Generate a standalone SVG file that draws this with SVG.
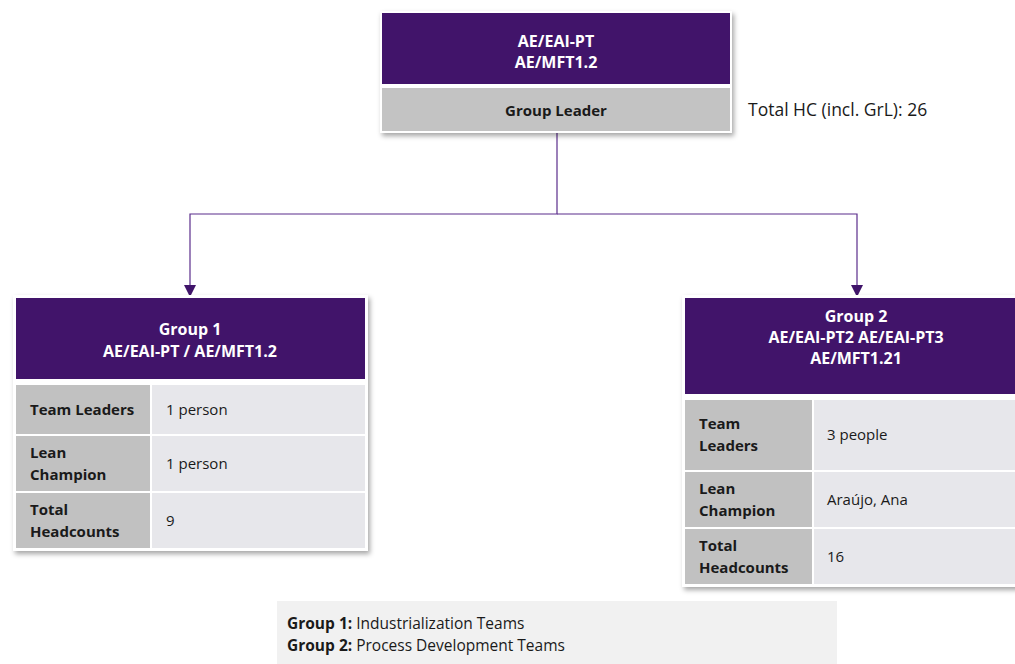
<svg xmlns="http://www.w3.org/2000/svg" width="1015" height="664" viewBox="0 0 1015 664">
  <defs>
    <filter id="shadow" x="-5%" y="-5%" width="115%" height="120%">
      <feDropShadow dx="2" dy="3" stdDeviation="2.5" flood-color="#000" flood-opacity="0.35"/>
    </filter>
    <style>
      .frame { fill: #ffffff; }
      .head { fill: #41146a; }
      .lbl { fill: #c1c1c1; }
      .val { fill: #e7e7eb; }
      .hdr { font-family: "Open Sans", "Liberation Sans", sans-serif; font-weight: bold; font-size: 16px; fill: #ffffff; text-anchor: middle; }
      .bold { font-family: "Open Sans", "Liberation Sans", sans-serif; font-weight: bold; font-size: 15px; fill: #1a1a1a; }
      .txt { font-family: "Open Sans", "Liberation Sans", sans-serif; font-size: 15px; fill: #1a1a1a; }
      .legend { font-size: 15.5px; }
      .note { font-size: 17.5px; }
      .conn { fill: none; stroke: #5b2d8c; stroke-width: 1.2; }
    </style>
  </defs>

  <rect width="1015" height="664" fill="#ffffff"/>

  <!-- connectors -->
  <g id="connectors">
    <path class="conn" d="M557,133 V214 H190 V286"/>
    <path class="conn" d="M557,214 H857 V286"/>
    <path d="M184,285 L196,285 L190,297 Z" fill="#40146a"/>
    <path d="M851,285 L863,285 L857,297 Z" fill="#40146a"/>
  </g>

  <!-- top unit -->
  <g id="top-unit">
    <rect class="frame" x="380" y="11" width="352" height="122" filter="url(#shadow)"/>
    <rect class="head" x="382" y="13" width="348" height="71"/>
    <rect x="382" y="88" width="348" height="43" fill="#c3c3c3"/>
    <text class="hdr" x="556" y="47">AE/EAI-PT</text>
    <text class="hdr" x="556" y="68">AE/MFT1.2</text>
    <text class="bold" x="556" y="116" text-anchor="middle">Group Leader</text>
  </g>

  <g id="total-hc">
    <text class="txt note" x="748" y="116">Total HC (incl. GrL): 26</text>
  </g>

  <!-- group 1 -->
  <g id="group1">
    <rect class="frame" x="13" y="295" width="355" height="256" filter="url(#shadow)"/>
    <rect class="head" x="16" y="298" width="349" height="81"/>
    <rect class="lbl" x="16" y="385" width="134" height="49"/>
    <rect class="val" x="152" y="385" width="213" height="49"/>
    <rect class="lbl" x="16" y="436" width="134" height="55"/>
    <rect class="val" x="152" y="436" width="213" height="55"/>
    <rect class="lbl" x="16" y="493" width="134" height="55"/>
    <rect class="val" x="152" y="493" width="213" height="55"/>
    <text class="hdr" x="190" y="335">Group 1</text>
    <text class="hdr" x="190" y="357">AE/EAI-PT / AE/MFT1.2</text>
    <text class="bold" x="30" y="415">Team Leaders</text>
    <text class="txt" x="166" y="415">1 person</text>
    <text class="bold" x="30" y="458">Lean</text>
    <text class="bold" x="30" y="480">Champion</text>
    <text class="txt" x="166" y="469">1 person</text>
    <text class="bold" x="30" y="515">Total</text>
    <text class="bold" x="30" y="537">Headcounts</text>
    <text class="txt" x="166" y="526">9</text>
  </g>

  <!-- group 2 -->
  <g id="group2">
    <rect class="frame" x="682" y="295" width="360" height="292" filter="url(#shadow)"/>
    <rect class="head" x="685" y="298" width="354" height="96"/>
    <rect class="lbl" x="685" y="400" width="127" height="70"/>
    <rect class="val" x="814" y="400" width="225" height="70"/>
    <rect class="lbl" x="685" y="472" width="127" height="55"/>
    <rect class="val" x="814" y="472" width="225" height="55"/>
    <rect class="lbl" x="685" y="529" width="127" height="55"/>
    <rect class="val" x="814" y="529" width="225" height="55"/>
    <text class="hdr" x="856" y="322">Group 2</text>
    <text class="hdr" x="856" y="343">AE/EAI-PT2 AE/EAI-PT3</text>
    <text class="hdr" x="856" y="364">AE/MFT1.21</text>
    <text class="bold" x="699" y="429">Team</text>
    <text class="bold" x="699" y="451">Leaders</text>
    <text class="txt" x="827" y="440">3 people</text>
    <text class="bold" x="699" y="494">Lean</text>
    <text class="bold" x="699" y="516">Champion</text>
    <text class="txt" x="827" y="505">Araújo, Ana</text>
    <text class="bold" x="699" y="551">Total</text>
    <text class="bold" x="699" y="573">Headcounts</text>
    <text class="txt" x="827" y="562">16</text>
  </g>

  <!-- legend -->
  <g id="legend">
    <rect x="277" y="601" width="560" height="63" fill="#f1f1f1"/>
    <text class="txt legend" x="287" y="629"><tspan font-weight="bold">Group 1:</tspan> Industrialization Teams</text>
    <text class="txt legend" x="287" y="651"><tspan font-weight="bold">Group 2:</tspan> Process Development Teams</text>
  </g>
</svg>
